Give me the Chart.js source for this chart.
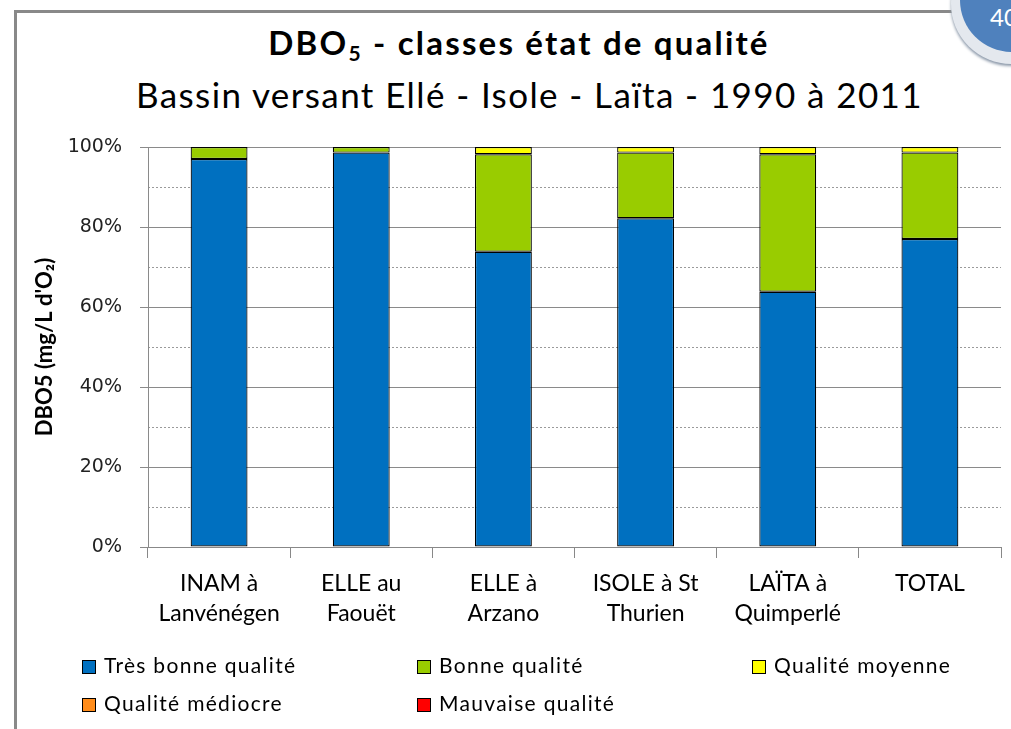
<!DOCTYPE html>
<html lang="fr">
<head>
<meta charset="utf-8">
<script src="https://cdn.jsdelivr.net/npm/chart.js@4.4.1/dist/chart.umd.min.js"></script>
<style>
  html, body { margin: 0; padding: 0; background: #fff; }
  #page { position: relative; width: 1011px; height: 729px; overflow: hidden; font-family: Lato, "Open Sans", sans-serif; }
  #frame { position: absolute; left: 14px; top: 10px; width: 940px; height: 760px;
           border-left: 3px solid #898989; border-top: 3px solid #898989; }
  #badge-rim { position: absolute; left: 951px; top: -56px; width: 122px; height: 120px; border-radius: 50%;
               background: #e4e8ee; box-shadow: 0 2px 3px #8a97a8; }
  #badge { position: absolute; left: 960px; top: -52px; width: 104px; height: 104px; border-radius: 50%;
           background: #4f81bd; }
  #badge span { position: absolute; left: 30px; top: 54px; color: #fff; font-size: 24px; }
  #title { position: absolute; top: 22px; left: 0; width: 1038px; text-align: center;
           font-weight: bold; font-size: 33px; letter-spacing: 2.2px; white-space: nowrap; }
  #title sub { font-size: 21px; vertical-align: -6px; }
  #subtitle { position: absolute; top: 73px; left: 0; width: 1059px; text-align: center;
              font-size: 35px; letter-spacing: 1.4px; white-space: nowrap; }
  canvas { position: absolute; left: 0; top: 0; }
  #legend { position: absolute; left: 82px; top: 652px; width: 1000px; }
  #legend div { position: absolute; width: 335px; font-size: 21px; letter-spacing: 1.3px; white-space: nowrap; line-height: 26px; }
  #legend span { display: inline-block; width: 12px; height: 12px; border: 1px solid #000;
                 margin-right: 8px; vertical-align: -1px; }
</style>
</head>
<body>
<div id="page">
  <div id="frame"></div>
  <div id="badge-rim"></div>
  <div id="badge"><span>40</span></div>
  <div id="title">DBO<sub>5</sub> - classes état de qualité</div>
  <div id="subtitle">Bassin versant Ellé - Isole - Laïta - 1990 à 2011</div>
  <canvas id="chart" width="1011" height="729"></canvas>
  <div id="legend"></div>
</div>
<script>
// Stations (two-line axis labels)
const stations = [
  ['INAM à', 'Lanvénégen'],
  ['ELLE au', 'Faouët'],
  ['ELLE à', 'Arzano'],
  ['ISOLE à St', 'Thurien'],
  ['LAÏTA à', 'Quimperlé'],
  ['TOTAL']
];

// Share of samples per quality class (%)
const tresBonne = [97.0, 98.6, 73.8, 82.2, 63.8, 77.0];
const bonne     = [3.0, 1.4, 24.4, 16.4, 34.4, 21.6];
const moyenne   = [0.0, 0.0, 1.8, 1.4, 1.8, 1.4];
const mediocre  = [0, 0, 0, 0, 0, 0];
const mauvaise  = [0, 0, 0, 0, 0, 0];

const classNames  = ['Très bonne qualité', 'Bonne qualité', 'Qualité moyenne', 'Qualité médiocre', 'Mauvaise qualité'];
const classColors = ['#0070C0', '#99CC00', '#FFFF00', '#FF8C1A', '#FF0000'];
const yTicks = [0, 20, 40, 60, 80, 100];

const series = [tresBonne, bonne, moyenne, mediocre, mauvaise];

const datasets = series.map((values, i) => ({
  label: classNames[i],
  data: values,
  backgroundColor: classColors[i],
  borderColor: '#000',
  borderWidth: 1.2,
  borderSkipped: false,
  categoryPercentage: 1,
  barPercentage: 0.4,
  yAxisID: 'y'
}));

const ctx = document.getElementById('chart').getContext('2d');
const chart = new Chart(ctx, {
  type: 'bar',
  data: { labels: stations, datasets: datasets },
  options: {
    responsive: false,
    animation: false,
    layout: { padding: { left: 20, top: 147, right: 10, bottom: 0 } },
    plugins: {
      legend: { display: false },
      tooltip: { enabled: false }
    },
    scales: {
      x: {
        stacked: true,
        grid: { drawOnChartArea: false, color: '#888', tickLength: 11, offset: true },
        border: { color: '#888', width: 1 },
        ticks: { color: '#000', font: { family: 'Lato', size: 23, lineHeight: 1.3 }, padding: 11, maxRotation: 0 },
        afterFit: (scale) => { scale.height = 182; }
      },
      y: {
        stacked: true,
        min: 0,
        max: 100,
        afterBuildTicks: (scale) => { scale.ticks = yTicks.map(v => ({ value: v })); },
        ticks: {
          color: '#222',
          font: { family: 'DejaVu Sans', size: 19 },
          padding: 18,
          callback: (v) => v + '%'
        },
        grid: { color: '#8a8a8a', lineWidth: 1, tickLength: 8 },
        border: { color: '#8a8a8a', width: 1 },
        title: {
          display: true,
          text: "DBO5 (mg/L d'O\u2082)",
          color: '#000',
          font: { family: 'Lato', size: 22, weight: 'bold' },
          padding: { top: 12, bottom: 0 }
        },
        afterFit: (scale) => { scale.width = 128; }
      },
      // dotted minor gridlines every 10 %
      yMinor: {
        position: 'left',
        min: 0,
        max: 100,
        ticks: { display: false, stepSize: 10 },
        grid: {
          drawTicks: false,
          color: (c) => (c.tick && c.tick.value % 20 !== 0) ? '#9a9a9a' : 'rgba(0,0,0,0)'
        },
        border: { display: false, dash: [2, 2] },
        afterFit: (scale) => { scale.width = 0; }
      }
    }
  }
});

// HTML legend laid out in three columns
const legendBox = document.getElementById('legend');
classNames.forEach((name, i) => {
  const item = document.createElement('div');
  item.style.left = (i % 3) * 335 + 'px';
  item.style.top = Math.floor(i / 3) * 38 + 'px';
  item.innerHTML = `<span style="background-color:${classColors[i]}"></span>${name}`;
  legendBox.appendChild(item);
});
</script>
</body>
</html>
